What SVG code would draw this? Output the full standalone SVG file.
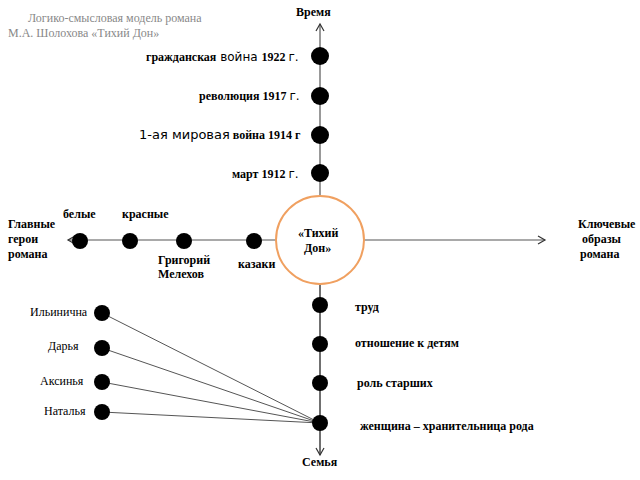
<svg xmlns="http://www.w3.org/2000/svg" width="640" height="480" viewBox="0 0 640 480">
<style>
text{font-family:"Liberation Serif",serif;font-size:12px;font-weight:bold;fill:#000}
.s{font-family:"DejaVu Sans",sans-serif;font-weight:normal}
.n{font-weight:normal}
.t{fill:#888;font-size:12px;font-weight:normal}
.ln{stroke:#555;stroke-width:1.2;fill:none}
.d{fill:#000}
</style>
<defs><marker id="a" markerWidth="10" markerHeight="10" refX="8" refY="5" orient="auto" markerUnits="userSpaceOnUse"><path d="M1,1 L8,5 L1,9" fill="none" stroke="#333" stroke-width="1.2"/></marker></defs>
<rect width="640" height="480" fill="#fff"/>
<text class="t" x="28" y="22">Логико-смысловая модель романа</text>
<text class="t" x="8" y="37">М.А. Шолохова   «Тихий Дон»</text>
<g id="connectors">
<line class="ln" x1="320" y1="455" x2="320" y2="24" marker-end="url(#a)"/>
<line class="ln" x1="320" y1="196" x2="320" y2="455" marker-end="url(#a)"/>
<line class="ln" x1="364" y1="240" x2="545" y2="240" marker-end="url(#a)"/>
<line class="ln" x1="276" y1="240" x2="68" y2="240" marker-end="url(#a)"/>
<g stroke="#555" stroke-width="1">
<line x1="102" y1="313" x2="320" y2="423"/>
<line x1="102" y1="348" x2="320" y2="423"/>
<line x1="102" y1="382" x2="320" y2="423"/>
<line x1="102" y1="412" x2="320" y2="423"/>
</g>
</g>
<g id="center"><circle cx="320" cy="240" r="44" fill="#fff" stroke="#f0a060" stroke-width="2"/><text x="298" y="237">«Тихий</text><text x="304" y="252">Дон»</text></g>
<text x="296" y="16">Время</text>
<text x="302" y="466">Семья</text>
<g id="time">
<circle class="d" cx="320" cy="56" r="9"/><text x="146" y="61"><tspan>гражданская</tspan><tspan class="s"> война </tspan><tspan>1922 </tspan><tspan class="s">г.</tspan></text>
<circle class="d" cx="320" cy="96" r="9"/><text x="199" y="100">революция 1917 <tspan class="s">г.</tspan></text>
<circle class="d" cx="320" cy="135" r="9"/><text x="139" y="139"><tspan class="s" font-size="13">1-ая мировая</tspan><tspan> война 1914 г</tspan></text>
<circle class="d" cx="320" cy="173" r="9"/><text x="232" y="178">март 1912 <tspan class="s">г.</tspan></text>
</g>
<g id="family">
<circle class="d" cx="320" cy="305" r="8"/><text x="355" y="311">труд</text>
<circle class="d" cx="320" cy="344" r="8"/><text x="355" y="347">отношение к детям</text>
<circle class="d" cx="320" cy="383" r="8"/><text x="357" y="387">роль старших</text>
<circle class="d" cx="320" cy="423" r="8"/><text x="360" y="430">женщина – хранительница рода</text>
</g>
<g id="heroes">
<text x="8" y="228">Главные</text><text x="8" y="243">герои</text><text x="8" y="258">романа</text>
<circle class="d" cx="80" cy="241" r="8"/><text x="63" y="218">белые</text>
<circle class="d" cx="130" cy="241" r="8"/><text x="122" y="218">красные</text>
<circle class="d" cx="184" cy="241" r="8"/><text x="158" y="264">Григорий</text><text x="158" y="278">Мелехов</text>
<circle class="d" cx="254" cy="241" r="8"/><text x="238" y="268">казаки</text>
</g>
<g id="images"><text x="578" y="228">Ключевые</text><text x="582" y="243">образы</text><text x="580" y="258">романа</text></g>
<g id="women">
<circle class="d" cx="102" cy="313" r="8"/><text class="n" x="30" y="316">Ильинична</text>
<circle class="d" cx="102" cy="348" r="8"/><text class="n" x="48" y="350">Дарья</text>
<circle class="d" cx="102" cy="382" r="8"/><text class="n" x="40" y="385">Аксинья</text>
<circle class="d" cx="102" cy="412" r="8"/><text class="n" x="44" y="415">Наталья</text>
</g>
</svg>
